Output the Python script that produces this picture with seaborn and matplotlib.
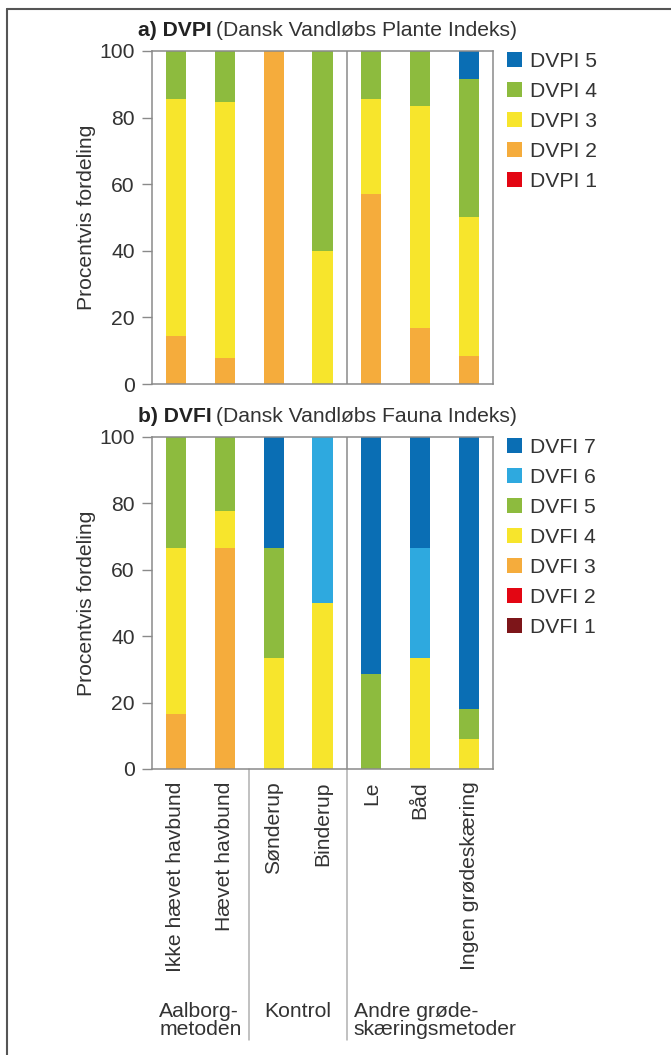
import matplotlib
matplotlib.use("Agg")
import matplotlib.pyplot as plt
from matplotlib.patches import Patch
from matplotlib.lines import Line2D
import matplotlib.transforms as mtransforms
import seaborn as sns
import pandas as pd

# stations / treatments
categories = ["Ikke hævet havbund", "Hævet havbund", "Sønderup", "Binderup",
              "Le", "Båd", "Ingen grødeskæring"]
group_labels = ["Aalborg-\nmetoden", "Kontrol", "Andre grøde-\nskæringsmetoder"]

# a) DVPI, percent per class (class 1 at the bottom)
dvpi_1 = [0, 0, 0, 0, 0, 0, 0]
dvpi_2 = [14.3, 7.7, 100, 0, 57.1, 16.7, 8.3]
dvpi_3 = [71.4, 76.9, 0, 40, 28.6, 66.7, 41.7]
dvpi_4 = [14.3, 15.4, 0, 60, 14.3, 16.6, 41.7]
dvpi_5 = [0, 0, 0, 0, 0, 0, 8.3]
dvpi_labels = ["DVPI 1", "DVPI 2", "DVPI 3", "DVPI 4", "DVPI 5"]

# b) DVFI
dvfi_1 = [0, 0, 0, 0, 0, 0, 0]
dvfi_2 = [0, 0, 0, 0, 0, 0, 0]
dvfi_3 = [16.7, 66.7, 0, 0, 0, 0, 0]
dvfi_4 = [50.0, 11.1, 33.3, 50, 0, 33.3, 9.1]
dvfi_5 = [33.3, 22.2, 33.3, 0, 28.6, 0, 9.1]
dvfi_6 = [0, 0, 0, 50, 0, 33.3, 0]
dvfi_7 = [0, 0, 33.4, 0, 71.4, 33.4, 81.8]
dvfi_labels = ["DVFI 1", "DVFI 2", "DVFI 3", "DVFI 4", "DVFI 5", "DVFI 6", "DVFI 7"]

c_darkred = "#7d1519"
c_red = "#e30613"
c_orange = "#f5ac3c"
c_yellow = "#f7e52c"
c_green = "#8dbb3e"
c_light = "#2ea9df"
c_blue = "#0a6eb4"
dvpi_colors = [c_red, c_orange, c_yellow, c_green, c_blue]
dvfi_colors = [c_darkred, c_red, c_orange, c_yellow, c_green, c_light, c_blue]

sns.set_style("ticks")
plt.rcParams["font.family"] = ["Liberation Sans", "DejaVu Sans"]
FS = 15.2
TXT = "#333333"
SPINE = "#8a8a8a"

W, H = 671, 1055
fig = plt.figure(figsize=(W / 100, H / 100), dpi=100)


def px_axes(left, top, right, bottom):
    return fig.add_axes([left / W, 1 - bottom / H, (right - left) / W, (bottom - top) / H])


def stacked(ax, series, colors):
    df = pd.DataFrame({"cat": categories})
    cum = [0] * len(categories)
    cums = []
    for s in series:
        cum = [a + b for a, b in zip(cum, s)]
        cums.append(cum)
    # tallest first, lower classes drawn on top
    for cvals, col in reversed(list(zip(cums, colors))):
        df["v"] = cvals
        sns.barplot(data=df, x="cat", y="v", order=categories, color=col,
                    saturation=1, width=0.41, linewidth=0, errorbar=None, ax=ax)
    ax.set_xlim(-0.49, 6.49)
    ax.set_ylim(0, 100)
    ax.set_yticks([0, 20, 40, 60, 80, 100])
    ax.set_xlabel("")
    ax.set_ylabel("Procentvis fordeling", fontsize=FS, color=TXT, labelpad=2)
    ax.tick_params(axis="y", labelsize=FS, colors=SPINE, labelcolor=TXT,
                   length=7.5, width=1, pad=5)
    ax.tick_params(axis="x", length=0)
    for sp in ax.spines.values():
        sp.set_color(SPINE)
        sp.set_linewidth(1.1)
    ax.axvline(3.5, color=SPINE, lw=1.1)


def title(ax, bold, rest):
    t = ax.text(-0.041, 1 + 15 / 333, bold, transform=ax.transAxes, fontsize=FS,
                fontweight="bold", color="#222222", va="baseline", ha="left")
    ax.annotate(rest, xy=(1, 0), xycoords=t, xytext=(4, 0), textcoords="offset pixels",
                fontsize=FS, color=TXT, va="bottom", ha="left")


def legend(ax, labels, colors, top_px):
    handles = [Patch(facecolor=c, edgecolor="none", label=l)
               for l, c in zip(reversed(labels), reversed(colors))]
    fig.legend(handles=handles, loc="upper left",
               bbox_to_anchor=(507 / W, 1 - top_px / H), bbox_transform=fig.transFigure,
               frameon=False, fontsize=FS, handlelength=0.72, handleheight=0.68,
               handletextpad=0.35, labelspacing=0.52, borderpad=0, borderaxespad=0,
               labelcolor=TXT)


ax1 = px_axes(152, 51, 493, 384)
stacked(ax1, [dvpi_1, dvpi_2, dvpi_3, dvpi_4, dvpi_5], dvpi_colors)
ax1.set_xticklabels([])
title(ax1, "a) DVPI", "(Dansk Vandløbs Plante Indeks)")
legend(ax1, dvpi_labels, dvpi_colors, 52)

ax2 = px_axes(152, 437, 493, 769)
stacked(ax2, [dvfi_1, dvfi_2, dvfi_3, dvfi_4, dvfi_5, dvfi_6, dvfi_7], dvfi_colors)
ax2.set_xticks(range(len(categories)))
ax2.set_xticklabels(categories, rotation=90, fontsize=FS, color=TXT, va="top", ha="center")
ax2.tick_params(axis="x", pad=9)
title(ax2, "b) DVFI", "(Dansk Vandløbs Fauna Indeks)")
legend(ax2, dvfi_labels, dvfi_colors, 438)

# group separators below the lower panel
tr = mtransforms.blended_transform_factory(ax2.transData, ax2.transAxes)
for xv, y1 in [(1.5, 0), (3.5, 0)]:
    ax2.add_line(Line2D([xv, xv], [-0.815, y1], transform=tr, color="#b0b0b0",
                        lw=1.1, clip_on=False))
gy = -(1002 - 769) / 332
ax2.text(0.5, gy, group_labels[0], transform=tr, ha="center", va="top",
         fontsize=FS, color=TXT, linespacing=0.95, multialignment="left")
ax2.text(2.5, gy, group_labels[1], transform=tr, ha="center", va="top",
         fontsize=FS, color=TXT)
ax2.text(3.64, gy, group_labels[2], transform=tr, ha="left", va="top",
         fontsize=FS, color=TXT, linespacing=0.95)

# outer frame (left and top edge only)
fig.add_artist(Line2D([7 / W, 7 / W], [0, 1 - 9 / H], transform=fig.transFigure,
                      color="#555555", lw=1.5))
fig.add_artist(Line2D([7 / W, 1], [1 - 9 / H, 1 - 9 / H], transform=fig.transFigure,
                      color="#555555", lw=1.5))

fig.savefig("out.png", dpi=100)
